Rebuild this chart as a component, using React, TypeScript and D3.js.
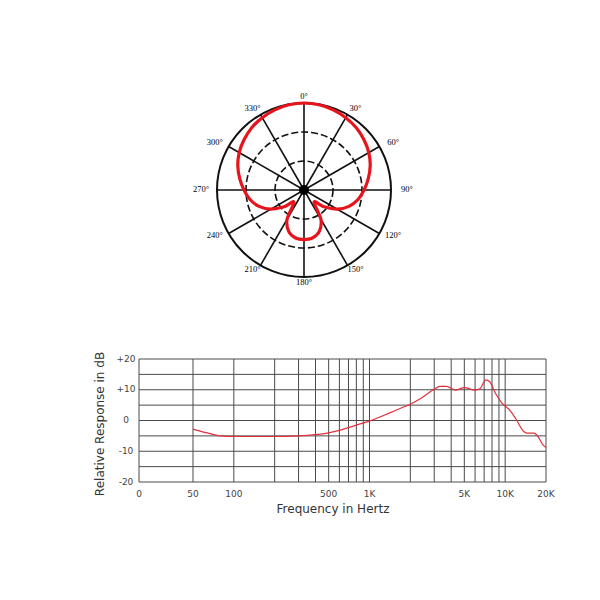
import React from "react";
import * as d3 from "d3";

// ---- Polar pattern data (relative radius, 0 = centre, 1 = outer ring) ----
const polarAngles = [0, 10, 20, 30, 40, 50, 60, 70, 80, 90, 100, 110, 120, 130, 140, 150, 160, 170, 180,
  190, 200, 210, 220, 230, 240, 250, 260, 270, 280, 290, 300, 310, 320, 330, 340, 350];
const polarLevels = [1.0, 0.995, 0.98, 0.96, 0.935, 0.9, 0.86, 0.81, 0.75, 0.69, 0.63, 0.55, 0.44, 0.3, 0.18, 0.39, 0.51, 0.56, 0.57,
  0.56, 0.51, 0.39, 0.18, 0.3, 0.44, 0.55, 0.63, 0.69, 0.75, 0.81, 0.86, 0.9, 0.935, 0.96, 0.98, 0.995];
const spokeAngles = [0, 30, 60, 90, 120, 150, 180, 210, 240, 270, 300, 330];
const spokeLabels = ["0°", "30°", "60°", "90°", "120°", "150°", "180°", "210°", "240°", "270°", "300°", "330°"];
const ringLevels = [1 / 3, 2 / 3, 1];

// ---- Frequency response data ----
const freqHz = [50, 60, 70, 80, 100, 200, 300, 400, 500, 600, 700, 800, 1000, 1400, 1700, 2000, 2400, 3000, 3300, 3700,
  4300, 5000, 6000, 6500, 7200, 7700, 8500, 9500, 10800, 12000, 13700, 14400, 16300, 17100, 19000, 20000];
const responseDb = [-2.8, -3.8, -4.5, -5.0, -5.2, -5.2, -5.0, -4.6, -4.0, -3.2, -2.3, -1.5, -0.2, 2.4, 4.0, 5.3, 7.2, 10.2, 11.1, 11.1,
  9.9, 10.7, 9.9, 10.3, 13.2, 12.6, 8.8, 5.6, 3.4, 0.5, -3.6, -4.1, -4.1, -4.7, -7.9, -8.8];
const gridFreqs = [20, 50, 100, 200, 300, 400, 500, 600, 700, 800, 900, 1000, 2000, 3000, 4000, 5000, 6000, 7000, 8000, 9000, 10000, 20000];
const gridDb = [-20, -15, -10, -5, 0, 5, 10, 15, 20];
const yLabelValues = [20, 10, 0, -10, -20];
const yLabelTexts = ["+20", "+10", "0", "-10", "-20"];
const xLabelValues = [20, 50, 100, 500, 1000, 5000, 10000, 20000];
const xLabelTexts = ["0", "50", "100", "500", "1K", "5K", "10K", "20K"];

export default function App() {
  // polar geometry
  const cx = 304, cy = 190, R = 87;
  const rScale = d3.scaleLinear().domain([0, 1]).range([0, R]);
  const toRad = (deg: number) => (deg * Math.PI) / 180;
  const polarPts = polarAngles.map((a, i) => [toRad(a), rScale(polarLevels[i])] as [number, number]);
  const radial = d3.lineRadial<[number, number]>()
    .angle((d) => d[0])
    .radius((d) => d[1])
    .curve(d3.curveCardinalClosed.tension(0.2));

  // frequency response geometry
  const x = d3.scaleLog().domain([20, 20000]).range([139, 546]);
  const y = d3.scaleLinear().domain([-20, 20]).range([482, 359]);
  const line = d3.line<number>()
    .x((_, i) => x(freqHz[i]))
    .y((d) => y(d))
    .curve(d3.curveMonotoneX);

  const gridColor = "#4a4a4a";
  const sans = "'DejaVu Sans', sans-serif";

  return (
    <svg width={600} height={600} style={{ position: "absolute", left: 0, top: 0, background: "#fff" }}>
      {/* ---------- Polar plot ---------- */}
      <g transform={`translate(${cx},${cy})`}>
        {ringLevels.map((lv, i) => (
          <circle key={i} r={rScale(lv)} fill="none" stroke="#111"
            strokeWidth={i === 2 ? 2 : 1.6}
            strokeDasharray={i === 2 ? undefined : "7 3"} />
        ))}
        {spokeAngles.map((a) => (
          <line key={a} x1={0} y1={0}
            x2={rScale(1) * Math.sin(toRad(a))} y2={-rScale(1) * Math.cos(toRad(a))}
            stroke="#111" strokeWidth={1.6} />
        ))}
        <path d={radial(polarPts) || ""} fill="none" stroke="#e8141c" strokeWidth={3.2} strokeLinejoin="round" />
        <circle r={5} fill="#000" />
        {spokeAngles.map((a, i) => (
          <text key={a}
            x={103 * Math.sin(toRad(a))} y={-93 * Math.cos(toRad(a))}
            textAnchor="middle" dominantBaseline="middle"
            fontFamily="'Liberation Serif', serif" fontSize={8.5} fill="#000">
            {spokeLabels[i]}
          </text>
        ))}
      </g>

      {/* ---------- Frequency response ---------- */}
      <g>
        {gridDb.map((d) => (
          <line key={"h" + d} x1={x(20)} x2={x(20000)} y1={y(d)} y2={y(d)} stroke={gridColor} strokeWidth={1} />
        ))}
        {gridFreqs.map((f) => (
          <line key={"v" + f} x1={x(f)} x2={x(f)} y1={y(20)} y2={y(-20)} stroke={gridColor} strokeWidth={1} />
        ))}
        <path d={line(responseDb) || ""} fill="none" stroke="#e0303c" strokeWidth={1.2} />
        {yLabelValues.map((v, i) => (
          <text key={"yl" + v} x={126} y={y(v)} textAnchor="middle" dominantBaseline="middle"
            fontFamily={sans} fontSize={9} fill="#444">{yLabelTexts[i]}</text>
        ))}
        {xLabelValues.map((v, i) => (
          <text key={"xl" + v} x={x(v)} y={494} textAnchor="middle" dominantBaseline="middle"
            fontFamily={sans} fontSize={9} fill="#444">{xLabelTexts[i]}</text>
        ))}
        <text x={333} y={509} textAnchor="middle" dominantBaseline="middle"
          fontFamily={sans} fontSize={12} fill="#333">Frequency in Hertz</text>
        <text transform={`translate(100,424) rotate(-90)`} textAnchor="middle" dominantBaseline="middle"
          fontFamily={sans} fontSize={12} fill="#333">Relative Response in dB</text>
      </g>
    </svg>
  );
}
